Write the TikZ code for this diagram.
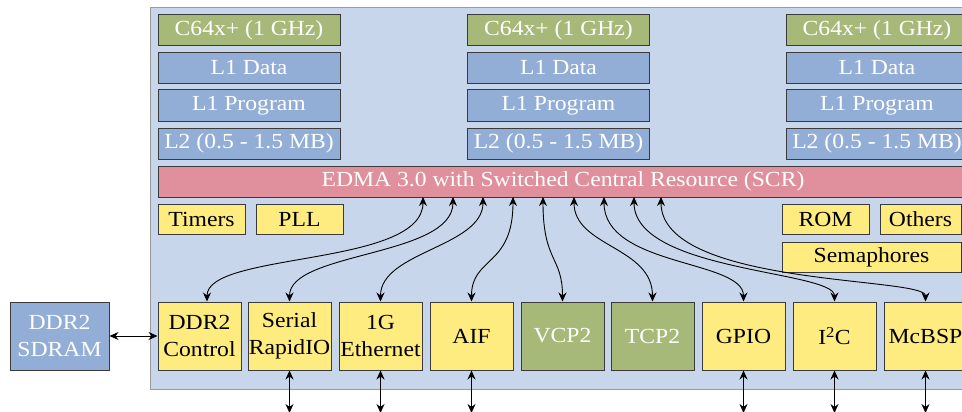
\documentclass[tikz,border=0pt]{standalone}
\usepackage{fontspec}
\setmainfont{Liberation Serif}[FakeStretch=1.1]
\usetikzlibrary{arrows.meta}
\definecolor{bgblue}{HTML}{C7D6EB}
\definecolor{outerline}{HTML}{9A9A9A}
\definecolor{boxline}{HTML}{3A3A3A}
\definecolor{cgreen}{HTML}{A7B978}
\definecolor{cblue}{HTML}{92AED6}
\definecolor{cpink}{HTML}{E0909C}
\definecolor{cyellow}{HTML}{FFEC80}
\begin{document}
\begin{tikzpicture}[x=1pt,y=-1pt,
  box/.style={draw=boxline, line width=1pt, inner sep=0pt, font=\fontsize{21.5}{27}\selectfont, align=center},
  cpu/.style={box, fill=cgreen, text=white, minimum width=182pt, minimum height=31pt},
  mem/.style={box, fill=cblue, text=white, minimum width=182pt, minimum height=31pt},
  per/.style={box, fill=cyellow, text=black, minimum width=83pt, minimum height=68pt},
  pergreen/.style={box, fill=cgreen, text=white, minimum width=83pt, minimum height=68pt},
  smallbox/.style={box, fill=cyellow, text=black, minimum height=30pt},
  link/.style={{Stealth[length=9pt,width=8pt]}-{Stealth[length=9pt,width=8pt]}, line width=0.9pt, black}]
\clip (0,0) rectangle (962,412);
\fill[white] (0,0) rectangle (962,412);
\node[draw=outerline, fill=bgblue, line width=1pt, minimum width=826pt, minimum height=382pt, inner sep=0pt, anchor=north west] (chip) at (150,7) {};
% cores
\node[cpu] (c1) at (249,30.5) {C64x+ (1 GHz)};
\node[mem] (d1) at (249,68) {L1 Data};
\node[mem] (p1) at (249,105.5) {L1 Program};
\node[mem] (l1) at (249,143.5) {L2 (0.5 - 1.5 MB)};
\node[cpu] (c2) at (558.5,30.5) {C64x+ (1 GHz)};
\node[mem] (d2) at (558.5,68) {L1 Data};
\node[mem] (p2) at (558.5,105.5) {L1 Program};
\node[mem] (l2) at (558.5,143.5) {L2 (0.5 - 1.5 MB)};
\node[cpu] (c3) at (877,30.5) {C64x+ (1 GHz)};
\node[mem] (d3) at (877,68) {L1 Data};
\node[mem] (p3) at (877,105.5) {L1 Program};
\node[mem] (l3) at (877,143.5) {L2 (0.5 - 1.5 MB)};
\node[box, fill=cpink, text=white, minimum width=810pt, minimum height=31pt] (edma) at (563,181.5) {EDMA 3.0 with Switched Central Resource (SCR)};
% small blocks
\node[smallbox, minimum width=87pt] (timers) at (201.5,219) {Timers};
\node[smallbox, minimum width=87pt] (pll) at (299.5,219) {PLL};
\node[smallbox, minimum width=87pt] (rom) at (825.5,219) {ROM};
\node[smallbox, minimum width=81pt] (others) at (920.5,219) {Others};
\node[smallbox, minimum width=179pt] (sema) at (871.5,257) {Semaphores};
% peripherals
\node[box, fill=cblue, text=white, minimum width=99pt, minimum height=68pt] (sdram) at (59.5,336) {DDR2\\SDRAM};
\node[per] (ddrc) at (199.5,336) {DDR2\\Control};
\node[per] (srio) at (289.5,336) {Serial\\RapidIO};
\node[per] (eth) at (380.5,336) {1G\\Ethernet};
\node[per] (aif) at (471.5,336) {AIF};
\node[pergreen] (vcp) at (562.5,336) {VCP2};
\node[pergreen] (tcp) at (652.5,336) {TCP2};
\node[per] (gpio) at (743.5,336) {GPIO};
\node[per] (iic) at (834.5,336) {I\textsuperscript{2}C};
\node[per] (mcbsp) at (925.5,336) {McBSP};
% EDMA ports
\coordinate (t1) at (423,197);
\coordinate (t2) at (453,197);
\coordinate (t3) at (483,197);
\coordinate (t4) at (513,197);
\coordinate (t5) at (543,197);
\coordinate (t6) at (574,197);
\coordinate (t7) at (604,197);
\coordinate (t8) at (634,197);
\coordinate (t9) at (661,197);
\draw[link] ([xshift=7.5pt]ddrc.north) .. controls +(0,-50) and +(0,70) .. (t1);
\draw[link] (srio.north) .. controls +(0,-50) and +(0,60) .. (t2);
\draw[link] (eth.north) .. controls +(0,-50) and +(0,50) .. (t3);
\draw[link] (aif.north) .. controls +(0,-45) and +(0,70) .. (t4);
\draw[link] (vcp.north) .. controls +(0,-45) and +(0,65) .. (t5);
\draw[link] (tcp.north) .. controls +(0,-55) and +(0,50) .. (t6);
\draw[link] (gpio.north) .. controls +(0,-42) and +(0,70) .. (t7);
\draw[link] (iic.north) .. controls +(0,-31) and +(0,75) .. (t8);
\draw[link] (mcbsp.north) .. controls +(0,-25) and +(0,90) .. (t9);
% external
\draw[link] (sdram.east) -- (ddrc.west);
\coordinate (x2) at (289.5,413);
\coordinate (x3) at (380.5,413);
\coordinate (x4) at (471.5,413);
\coordinate (x7) at (743.5,413);
\coordinate (x8) at (834.5,413);
\coordinate (x9) at (925.5,413);
\draw[link] (srio.south) -- (x2);
\draw[link] (eth.south) -- (x3);
\draw[link] (aif.south) -- (x4);
\draw[link] (gpio.south) -- (x7);
\draw[link] (iic.south) -- (x8);
\draw[link] (mcbsp.south) -- (x9);
\end{tikzpicture}
\end{document}
